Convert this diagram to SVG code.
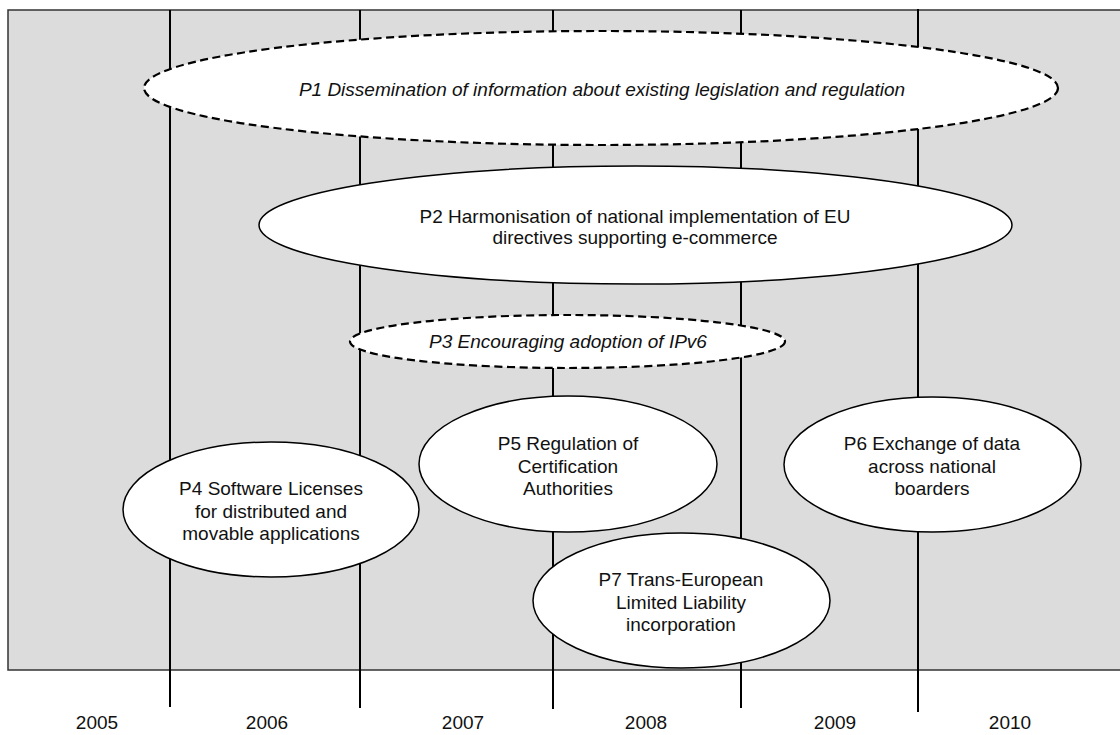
<svg xmlns="http://www.w3.org/2000/svg" width="1120" height="735" viewBox="0 0 1120 735">
<style>
.bg{fill:#dcdcdc;stroke:#333;stroke-width:1.5}
.yl{stroke:#000;stroke-width:2}
.n{fill:#fff;stroke:#000;stroke-width:1.5}
.d{fill:#fff;stroke:#000;stroke-width:2.2;stroke-dasharray:8 4.5}
text{font-family:"Liberation Sans",Arial,sans-serif;font-size:19px;fill:#111;text-anchor:middle}
.i{font-style:italic}
</style>
<rect class="bg" x="8" y="10" width="1120" height="660"/>
<g id="connectors">
<line class="yl" x1="170" y1="10" x2="170" y2="707"/>
<line class="yl" x1="360" y1="10" x2="360" y2="708"/>
<line class="yl" x1="553" y1="10" x2="553" y2="709"/>
<line class="yl" x1="741" y1="10" x2="741" y2="708"/>
<line class="yl" x1="918" y1="9" x2="918" y2="712"/>
</g>
<g id="years">
<text x="97" y="729">2005</text>
<text x="267" y="729">2006</text>
<text x="463" y="729">2007</text>
<text x="646" y="729">2008</text>
<text x="835" y="729">2009</text>
<text x="1010" y="729">2010</text>
</g>
<g id="P1">
<ellipse class="d" cx="601" cy="88" rx="457" ry="57"/>
<text class="i" x="602" y="96">P1 Dissemination of information about existing legislation and regulation</text>
</g>
<g id="P2">
<ellipse class="n" cx="635.5" cy="225" rx="376.5" ry="59"/>
<text x="635" y="223">P2 Harmonisation of national implementation of EU</text>
<text x="635" y="244">directives supporting e-commerce</text>
</g>
<g id="P3">
<ellipse class="d" cx="567.5" cy="341.5" rx="217.5" ry="26.5"/>
<text class="i" x="568" y="348">P3 Encouraging adoption of IPv6</text>
</g>
<g id="P4">
<ellipse class="n" cx="271" cy="509.5" rx="148" ry="67.5"/>
<text x="271" y="495">P4 Software Licenses</text>
<text x="271" y="518">for distributed and</text>
<text x="271" y="540">movable applications</text>
</g>
<g id="P5">
<ellipse class="n" cx="568" cy="464" rx="149" ry="68"/>
<text x="568" y="450">P5 Regulation of</text>
<text x="568" y="473">Certification</text>
<text x="568" y="495">Authorities</text>
</g>
<g id="P6">
<ellipse class="n" cx="932.5" cy="464.5" rx="148.5" ry="67.5"/>
<text x="932" y="450">P6 Exchange of data</text>
<text x="932" y="473">across national</text>
<text x="932" y="495">boarders</text>
</g>
<g id="P7">
<ellipse class="n" cx="681.5" cy="600.5" rx="148.5" ry="67.5"/>
<text x="681" y="586">P7 Trans-European</text>
<text x="681" y="609">Limited Liability</text>
<text x="681" y="631">incorporation</text>
</g>
</svg>
